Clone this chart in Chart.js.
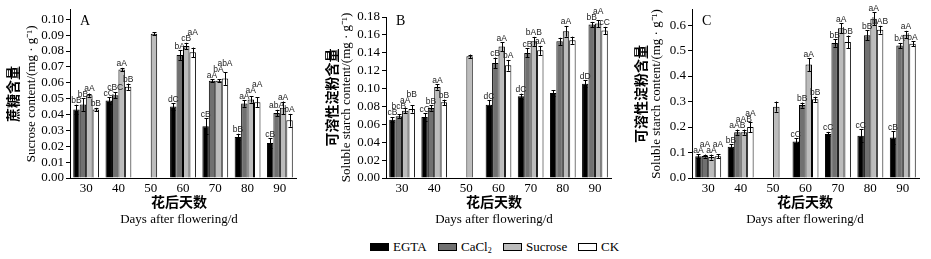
<!DOCTYPE html>
<html><head><meta charset="utf-8">
<script src="https://cdn.jsdelivr.net/npm/chart.js@4/dist/chart.umd.min.js"></script>
<style>
body{margin:0;background:#fff;width:931px;height:259px;overflow:hidden;position:relative;}
.pan{position:absolute;top:0;}
.leg{position:absolute;top:239px;height:15px;font:13px "Liberation Serif",serif;color:#000;display:flex;align-items:center;white-space:nowrap}
.box{display:inline-block;width:17px;height:6px;border:1px solid #000;margin-right:4px}
.sub{font-size:8px;position:relative;top:4px}
</style></head><body>
<div class="pan" style="left:0"><canvas id="cA"></canvas></div>
<div class="pan" style="left:310px"><canvas id="cB"></canvas></div>
<div class="pan" style="left:620px"><canvas id="cC"></canvas></div>
<div class="leg" style="left:370px"><span class="box" style="background:#000"></span>EGTA</div>
<div class="leg" style="left:438px"><span class="box" style="background:#707070"></span>CaCl<span class="sub">2</span></div>
<div class="leg" style="left:503px"><span class="box" style="background:#bcbcbc"></span>Sucrose</div>
<div class="leg" style="left:578px"><span class="box" style="background:#fff"></span>CK</div>
<script>
const categories = ['30','40','50','60','70','80','90'];
const seriesNames = ['EGTA','CaCl₂','Sucrose','CK'];

// Panel A: sucrose content
const egtaA  = [0.0432, 0.0488, null, 0.0450, 0.0326, 0.0259, 0.0221];
const cacl2A = [0.0463, 0.0522, null, 0.0775, 0.0613, 0.0469, 0.0410];
const sucA   = [0.0522, 0.0684, 0.0909, 0.0832, 0.0613, 0.0495, 0.0442];
const ckA    = [0.0432, 0.0575, null, 0.0792, 0.0627, 0.0478, 0.0364];
const egtaErrA  = [0.003, 0.002, null, 0.002, 0.005, 0.002, 0.003];
const cacl2ErrA = [0.004, 0.002, null, 0.003, 0.001, 0.002, 0.002];
const sucErrA   = [0.001, 0.001, 0.001, 0.002, 0.001, 0.002, 0.004];
const ckErrA    = [0.001, 0.002, null, 0.003, 0.004, 0.003, 0.004];
const egtaLblA  = ['bB','cC','','dC','cB','bB','cB'];
const cacl2LblA = ['bB','cBC','','bA','aA','aA','abA'];
const sucLblA   = ['aA','aA','','cB','bA','aA','aA'];
const ckLblA    = ['bB','bB','','aA','abA','aA','bA'];
const ticksA = [0,0.01,0.02,0.03,0.04,0.05,0.06,0.07,0.08,0.09,0.10];

// Panel B: soluble starch
const egtaB  = [0.0652, 0.0682, null, 0.0820, 0.0913, 0.0950, 0.1055];
const cacl2B = [0.0690, 0.0783, null, 0.1286, 0.1398, 0.1528, 0.1715];
const sucB   = [0.0753, 0.1018, 0.1360, 0.1470, 0.1528, 0.1640, 0.1726];
const ckB    = [0.0772, 0.0846, null, 0.1260, 0.1427, 0.1540, 0.1650];
const egtaErrB  = [0.003, 0.004, null, 0.005, 0.003, 0.003, 0.004];
const cacl2ErrB = [0.002, 0.003, null, 0.006, 0.005, 0.004, 0.003];
const sucErrB   = [0.003, 0.003, 0.002, 0.005, 0.005, 0.006, 0.004];
const ckErrB    = [0.004, 0.003, null, 0.006, 0.005, 0.004, 0.004];
const egtaLblB  = ['cB','cC','','dC','dC','','dD'];
const cacl2LblB = ['bcB','bB','','cB','cB','','bB'];
const sucLblB   = ['aA','aA','','aA','bAB','aA','aA'];
const ckLblB    = ['bB','bB','','bA','aA','','cC'];
const ticksB = [0,0.02,0.04,0.06,0.08,0.10,0.12,0.14,0.16,0.18];

// Panel C: soluble starch
const egtaC  = [0.085, 0.123, null, 0.143, 0.173, 0.166, 0.159];
const cacl2C = [0.086, 0.180, null, 0.286, 0.530, 0.560, 0.520];
const sucC   = [0.082, 0.180, 0.280, 0.445, 0.588, 0.625, 0.5625];
const ckC    = [0.085, 0.200, null, 0.309, 0.534, 0.582, 0.527];
const egtaErrC  = [0.008, 0.010, null, 0.012, 0.008, 0.025, 0.025];
const cacl2ErrC = [0.006, 0.010, null, 0.010, 0.015, 0.020, 0.010];
const sucErrC   = [0.010, 0.010, 0.020, 0.025, 0.020, 0.025, 0.015];
const ckErrC    = [0.008, 0.020, null, 0.010, 0.025, 0.015, 0.010];
const egtaLblC  = ['aA','bB','','cC','cC','cC','cB'];
const cacl2LblC = ['aA','aAB','','bB','bB','bB','bA'];
const sucLblC   = ['aA','aAB','','aA','aA','aA','aA'];
const ckLblC    = ['aA','aA','','bB','bB','bAB','bA'];
const ticksC = [0,0.1,0.2,0.3,0.4,0.5,0.6];

const fills = ['#000000','#707070','#bcbcbc','#ffffff'];

const decoPlugin = {
  id: 'deco',
  afterDatasetsDraw(chart) {
    const ctx = chart.ctx, ys = chart.scales.y;
    ctx.save();
    ctx.strokeStyle = '#000'; ctx.lineWidth = 1;
    const placed = {};
    chart.data.datasets.forEach((ds, di) => {
      const meta = chart.getDatasetMeta(di);
      meta.data.forEach((el, i) => {
        const v = ds.data[i]; if (v == null) return;
        const e = ds.errs[i] || 0;
        const x = Math.round(el.x) + 0.5;
        const yt = ys.getPixelForValue(v + e), yb = ys.getPixelForValue(v - e);
        ctx.beginPath();
        ctx.moveTo(x, yt); ctx.lineTo(x, yb);
        ctx.moveTo(x - 2, Math.round(yt) + 0.5); ctx.lineTo(x + 2, Math.round(yt) + 0.5);
        ctx.moveTo(x - 2, Math.round(yb) + 0.5); ctx.lineTo(x + 2, Math.round(yb) + 0.5);
        ctx.stroke();
        const t = ds.lbls[i];
        if (t) {
          ctx.font = '8.5px "Liberation Sans", Arial, sans-serif';
          const w = ctx.measureText(t).width, h = 6;
          let bottom = yt - 1.5;
          const list = placed[i] || (placed[i] = []);
          let moved = true, guard = 0;
          while (moved && guard++ < 10) {
            moved = false;
            for (const p of list) {
              const hov = Math.abs(p.x - el.x) < (p.w + w) / 2 - 3;
              const vov = bottom > p.bottom - h && bottom - h < p.bottom;
              if (hov && vov) { bottom = p.bottom - h; moved = true; }
            }
          }
          list.push({x: el.x, w, bottom});
          ctx.fillStyle = '#222';
          ctx.textAlign = 'center'; ctx.textBaseline = 'alphabetic';
          ctx.fillText(t, el.x, bottom);
        }
      });
    });
    ctx.restore();
  },
  afterDraw(chart) {
    const d = chart.options.plugins.deco, ctx = chart.ctx, ca = chart.chartArea;
    ctx.save();
    ctx.fillStyle = '#000'; ctx.textAlign = 'center'; ctx.textBaseline = 'middle';
    const cy = (ca.top + ca.bottom) / 2;
    const rot = (x, y, text, font) => {
      ctx.save(); ctx.translate(x, y); ctx.rotate(-Math.PI / 2);
      ctx.font = font; ctx.fillText(text, 0, 0); ctx.restore();
    };
    rot(d.zhX, cy + d.zhDy, d.zh, 'bold 14px "Noto Sans CJK SC"');
    rot(d.enX, cy + d.enDy, d.en, '13px "Liberation Serif"');
    ctx.font = 'bold 14px "Noto Sans CJK SC"';
    ctx.fillText('花后天数', d.xtX, 202);
    ctx.font = '13px "Liberation Serif"';
    ctx.fillText('Days after flowering/d', d.xtX, 220);
    ctx.font = '14px "Liberation Serif"'; ctx.textAlign = 'left';
    ctx.fillText(d.letter, ca.left + 10, 21);
    ctx.restore();
  }
};

function build(id, w, vals, errs, lbls, tickVals, ax, deco) {
  const cv = document.getElementById(id);
  cv.width = w; cv.height = 235; cv.style.width = w + 'px'; cv.style.height = '235px';
  new Chart(cv, {
    type: 'bar',
    data: {
      labels: categories,
      datasets: vals.map((v, i) => ({
        label: seriesNames[i], data: v, errs: errs[i], lbls: lbls[i],
        backgroundColor: fills[i], borderColor: '#000', borderWidth: 1,
        categoryPercentage: 0.8, barPercentage: 1.0
      }))
    },
    options: {
      responsive: false, animation: false, devicePixelRatio: 1,
      layout: { padding: { top: ax.top, right: ax.right, left: 0, bottom: 0 } },
      plugins: { legend: { display: false }, tooltip: { enabled: false }, deco },
      scales: {
        x: {
          grid: { display: true, drawOnChartArea: false, drawTicks: false },
          border: { display: true, color: '#000', width: 1 },
          ticks: { color: '#000', font: { family: 'Liberation Serif', size: 13 }, padding: 3, maxRotation: 0 },
          afterFit: s => { s.height = 57; }
        },
        y: {
          min: 0, max: ax.max,
          border: { display: true, color: '#000', width: 1 },
          grid: { drawOnChartArea: false, drawTicks: true, tickLength: 4, color: '#000' },
          ticks: { color: '#000', font: { family: 'Liberation Serif', size: 13 }, padding: 2, autoSkip: false,
                   callback: v => Number(v).toFixed(ax.dec) },
          afterBuildTicks: s => { s.ticks = tickVals.map(v => ({ value: v })); },
          afterFit: s => { s.width = ax.w; }
        }
      }
    },
    plugins: [decoPlugin]
  });
}

build('cA', 310, [egtaA, cacl2A, sucA, ckA], [egtaErrA, cacl2ErrA, sucErrA, ckErrA],
  [egtaLblA, cacl2LblA, sucLblA, ckLblA], ticksA,
  { max: 0.106, dec: 2, top: 8, right: 14, w: 70 },
  { zh: '蔗糖含量', zhX: 13, zhDy: 0, en: 'Sucrose content/(mg · g⁻¹)', enX: 32, enDy: 0, xtX: 179, letter: 'A' });
build('cB', 310, [egtaB, cacl2B, sucB, ckB], [egtaErrB, cacl2ErrB, sucErrB, ckErrB],
  [egtaLblB, cacl2LblB, sucLblB, ckLblB], ticksB,
  { max: 0.18, dec: 2, top: 17, right: 9, w: 76 },
  { zh: '可溶性淀粉含量', zhX: 22, zhDy: 0, en: 'Soluble starch content/(mg · g⁻¹)', enX: 37, enDy: 0, xtX: 184, letter: 'B' });
build('cC', 311, [egtaC, cacl2C, sucC, ckC], [egtaErrC, cacl2ErrC, sucErrC, ckErrC],
  [egtaLblC, cacl2LblC, sucLblC, ckLblC], ticksC,
  { max: 0.66, dec: 1, top: 9, right: 12, w: 72 },
  { zh: '可溶性淀粉含量', zhX: 21, zhDy: 0, en: 'Soluble starch content/(mg · g⁻¹)', enX: 37, enDy: 0, xtX: 185, letter: 'C' });
</script>
</body></html>
